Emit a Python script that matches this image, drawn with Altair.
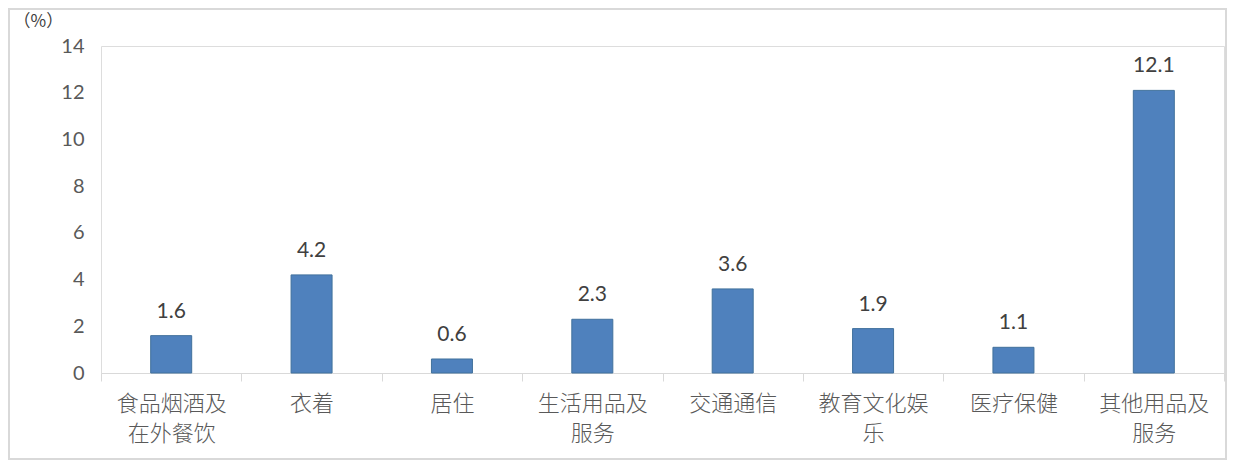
import altair as alt
import pandas as pd

categories = ["食品烟酒及\n在外餐饮", "衣着", "居住", "生活用品及\n服务", "交通通信", "教育文化娱\n乐", "医疗保健", "其他用品及\n服务"]
values = [1.6, 4.2, 0.6, 2.3, 3.6, 1.9, 1.1, 12.1]
y_ticks = [0, 2, 4, 6, 8, 10, 12, 14]

df = pd.DataFrame({"cat": categories, "val": values})

FONT = "Lato, Noto Sans CJK SC"
CJK = "Noto Sans CJK SC"

x = alt.X("cat:N", sort=categories, title=None,
          scale=alt.Scale(paddingInner=0, paddingOuter=0),
          axis=alt.Axis(labelAngle=0, labelExpr="split(datum.label, '\\n')",
                        labelFont=CJK, labelFontSize=22, labelFontWeight=300, labelColor="#595959",
                        labelLineHeight=30, labelPadding=12, labelBaseline="top",
                        tickBand="extent", tickSize=8, tickColor="#d9d9d9",
                        domainColor="#d9d9d9", domainWidth=1.2, grid=False))
y = alt.Y("val:Q", title="（%）",
          scale=alt.Scale(domain=[0, 14], nice=False),
          axis=alt.Axis(values=y_ticks, domain=False, ticks=False, grid=False,
                        labelFont=FONT, labelFontSize=20, labelColor="#595959",
                        labelPadding=17,
                        titleAngle=0, titleAlign="left", titleBaseline="middle",
                        titleX=-88, titleY=-25, titleFont=CJK, titleFontSize=17,
                        titleFontWeight="normal", titleColor="#404040"))

bars = alt.Chart(df).mark_bar(size=41, color="#4F81BD", stroke="#41719C", strokeWidth=1).encode(x=x, y=y)
text = alt.Chart(df).mark_text(dy=-14, baseline="bottom", font=FONT, fontSize=21, color="#404040").encode(
    x=alt.X("cat:N", sort=categories), y="val:Q", text=alt.Text("val:Q", format=".1f"))
frame = alt.Chart(df).mark_rect(fill=None, stroke="#d9d9d9", strokeWidth=1.5).encode(
    x=alt.value(-92), x2=alt.value(1125), y=alt.value(-37), y2=alt.value(413))

chart = alt.layer(frame, bars, text).properties(
    width=1123, height=327,
    padding={"left": 93, "top": 38, "right": 3, "bottom": 87},
    autosize=alt.AutoSizeParams(type="none"),
).configure_view(stroke=None).configure(background="white")

chart.save("out.html", embed_options={"renderer": "svg", "actions": False})
